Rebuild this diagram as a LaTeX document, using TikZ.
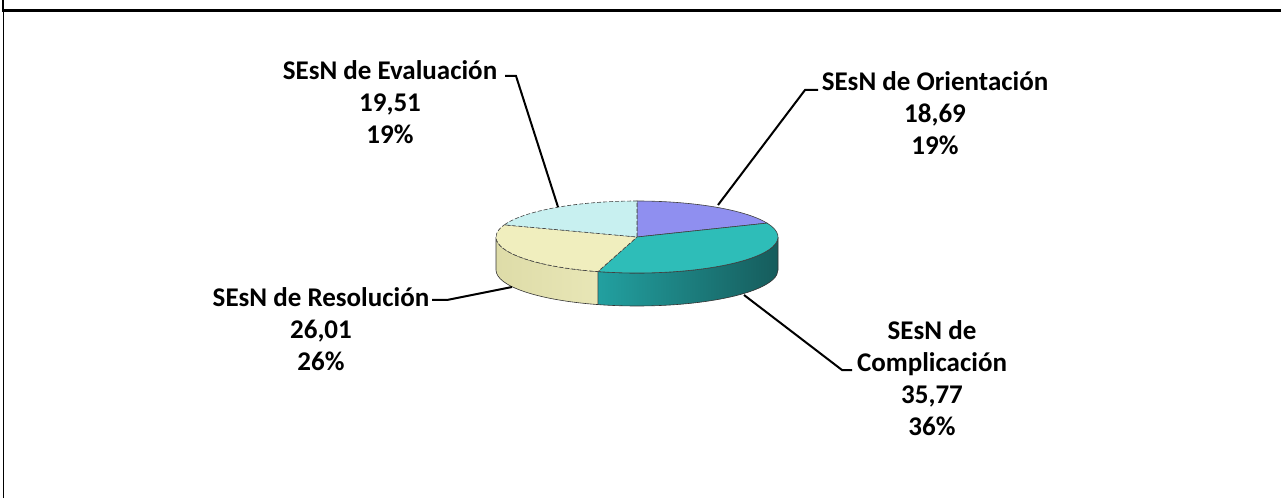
\documentclass[tikz,border=0pt]{standalone}
\usepackage{fontspec}
\setmainfont{Carlito}
\begin{document}
\begin{tikzpicture}[x=1pt,y=1pt,
  lbl/.style={font=\fontsize{27}{32}\selectfont\bfseries, align=center, inner sep=0pt},
  leader/.style={line width=2pt, black},
  topedge/.style={draw=black!75, line width=0.6pt},
  sideedge/.style={draw=black!80, line width=0.6pt}]
\definecolor{orient}{RGB}{143,143,240}
\definecolor{compl}{RGB}{46,189,184}
\definecolor{complL}{RGB}{34,160,160}
\definecolor{complR}{RGB}{22,92,92}
\definecolor{resol}{RGB}{240,238,190}
\definecolor{resolL}{RGB}{222,220,168}
\definecolor{resolR}{RGB}{236,234,188}
\definecolor{evalu}{RGB}{200,240,240}
\useasboundingbox (0,0) rectangle (1281,498);
\fill[white] (0,0) rectangle (1281,498);
% frame
\draw[line width=2.4pt] (3,498) -- (3,487.5) -- (1281,487.5);
\draw[line width=1.2pt] (3.5,0) -- (3.5,488);

% pie geometry: top centre, radii, depth 33
\coordinate (C) at (637,261);
\def\rx{141}\def\ry{36}

% side walls
\path[left color=complL, right color=complR, sideedge]
  (C) ++(253.9:\rx pt and \ry pt) arc[start angle=253.9, end angle=360, x radius=\rx, y radius=\ry]
  -- ++(0,-33) arc[start angle=360, end angle=253.9, x radius=\rx, y radius=\ry] -- cycle;
\path[left color=resolL, right color=resolR, sideedge]
  (C) ++(180:\rx pt and \ry pt) arc[start angle=180, end angle=253.9, x radius=\rx, y radius=\ry]
  -- ++(0,-33) arc[start angle=253.9, end angle=180, x radius=\rx, y radius=\ry] -- cycle;

% top faces
\path[fill=orient, topedge]
  (C) -- ++(22.7:\rx pt and \ry pt) arc[start angle=22.7, end angle=90, x radius=\rx, y radius=\ry] -- cycle;
\path[fill=compl, topedge]
  (C) -- ++(-106.1:\rx pt and \ry pt) arc[start angle=-106.1, end angle=22.7, x radius=\rx, y radius=\ry] -- cycle;
\path[fill=resol, topedge, dash pattern=on 4pt off 2pt]
  (C) -- ++(160.3:\rx pt and \ry pt) arc[start angle=160.3, end angle=253.9, x radius=\rx, y radius=\ry] -- cycle;
\path[fill=evalu, topedge, dash pattern=on 4pt off 2pt]
  (C) -- ++(90:\rx pt and \ry pt) arc[start angle=90, end angle=160.3, x radius=\rx, y radius=\ry] -- cycle;

% labels
\node[lbl] (lEval) at (390,396) {SEsN de Evaluación\\19,51\\19\%};
\node[lbl] (lOrie) at (935,385) {SEsN de Orientación\\18,69\\19\%};
\node[lbl] (lReso) at (321,169) {SEsN de Resolución\\26,01\\26\%};
\node[lbl] (lComp) at (932,120) {SEsN de\\Complicación\\35,77\\36\%};

% leader lines
\coordinate (eA) at (505,422); \coordinate (eB) at (516,422); \coordinate (eP) at (558,291);
\coordinate (oA) at (818,408); \coordinate (oB) at (805,408); \coordinate (oP) at (718,293);
\coordinate (rA) at (432,198); \coordinate (rB) at (447,198); \coordinate (rP) at (512,211);
\coordinate (cA) at (852,128); \coordinate (cB) at (842,128); \coordinate (cP) at (744,203);
\draw[leader] (eA) -- (eB) -- (eP);
\draw[leader] (oA) -- (oB) -- (oP);
\draw[leader] (rA) -- (rB) -- (rP);
\draw[leader] (cA) -- (cB) -- (cP);
\end{tikzpicture}
\end{document}
